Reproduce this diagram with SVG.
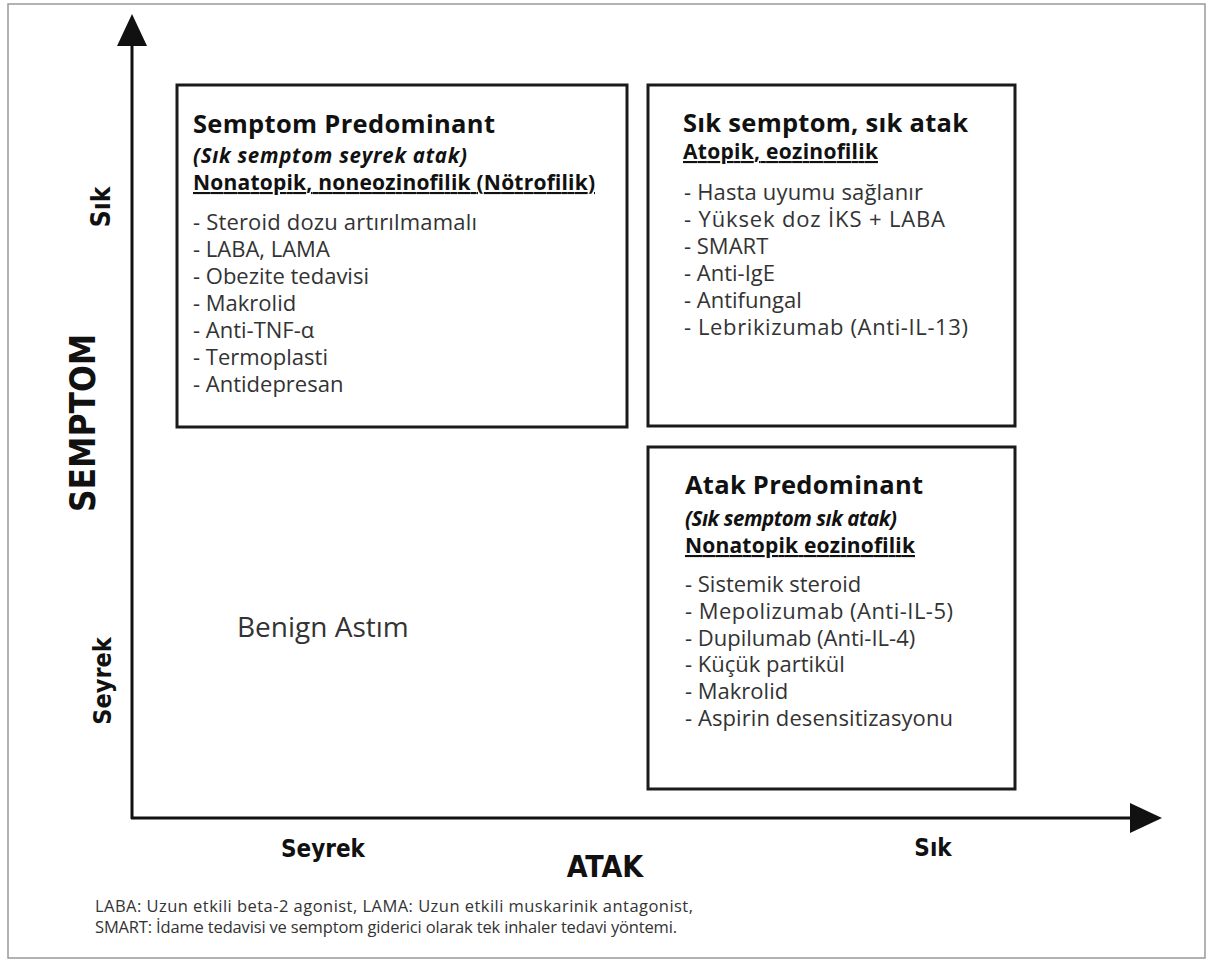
<svg xmlns="http://www.w3.org/2000/svg" width="1213" height="964" viewBox="0 0 1213 964">
<style>
.box{fill:none;stroke:#1a1a1a;stroke-width:3}
.t{font-family:"Open Sans",Lato,sans-serif;font-weight:bold;font-size:25.5px;fill:#111}
.s{font-family:"Open Sans",Lato,sans-serif;font-weight:bold;font-style:italic;font-size:20.5px;fill:#111}
.u{font-family:"Open Sans",Lato,sans-serif;font-weight:bold;font-size:21px;fill:#111;text-decoration:underline}
.i{font-family:"Open Sans",Lato,sans-serif;font-size:22px;fill:#333}
.b{font-family:"Open Sans",Lato,sans-serif;font-size:28px;fill:#333}
.ax{font-family:"DejaVu Sans Condensed","DejaVu Sans",sans-serif;font-stretch:condensed;font-weight:bold;fill:#111}
.fn{font-family:"Open Sans",Lato,sans-serif;font-size:16.5px;fill:#333}
.axis{stroke:#111;stroke-width:3;fill:none}
</style>
<rect x="8" y="4" width="1197" height="954" fill="#fff" stroke="#999" stroke-width="1.5"/>
<g id="connectors">
<line class="axis" x1="132" y1="40" x2="132" y2="819"/>
<line class="axis" x1="131" y1="818" x2="1140" y2="818"/>
<polygon points="132,14 117,46 147,46" fill="#111"/>
<polygon points="1162,818 1130,803 1130,833" fill="#111"/>
</g>
<g id="axis-labels">
<text class="ax" font-size="26" transform="translate(110,207) rotate(-90)" text-anchor="middle">Sık</text>
<text class="ax" font-size="35" transform="translate(95,423) rotate(-90)" text-anchor="middle">SEMPTOM</text>
<text class="ax" font-size="25" transform="translate(111,681) rotate(-90)" text-anchor="middle">Seyrek</text>
<text class="ax" font-size="24" x="323" y="857" text-anchor="middle">Seyrek</text>
<text class="ax" font-size="30" x="605" y="877" text-anchor="middle">ATAK</text>
<text class="ax" font-size="24" x="933" y="856" text-anchor="middle">Sık</text>
</g>
<g id="box-semptom">
<rect class="box" x="177" y="85" width="450" height="342"/>
<text class="t" x="193" y="133" textLength="302">Semptom Predominant</text>
<text class="s" x="193" y="163" textLength="274">(Sık semptom seyrek atak)</text>
<text class="u" x="193" y="190" textLength="402">Nonatopik, noneozinofilik (Nötrofilik)</text>
<text class="i" x="193" y="230" textLength="284">- Steroid dozu artırılmamalı</text>
<text class="i" x="193" y="257">- LABA, LAMA</text>
<text class="i" x="193" y="284">- Obezite tedavisi</text>
<text class="i" x="193" y="311">- Makrolid</text>
<text class="i" x="193" y="338">- Anti-TNF-α</text>
<text class="i" x="193" y="365">- Termoplasti</text>
<text class="i" x="193" y="392">- Antidepresan</text>
</g>
<g id="box-sik">
<rect class="box" x="648" y="85" width="367" height="341"/>
<text class="t" x="683" y="132" textLength="285">Sık semptom, sık atak</text>
<text class="u" x="683" y="159" textLength="195">Atopik, eozinofilik</text>
<text class="i" x="684" y="200" textLength="239">- Hasta uyumu sağlanır</text>
<text class="i" x="684" y="227" textLength="261">- Yüksek doz İKS + LABA</text>
<text class="i" x="684" y="254">- SMART</text>
<text class="i" x="684" y="281">- Anti-IgE</text>
<text class="i" x="684" y="308">- Antifungal</text>
<text class="i" x="684" y="335" textLength="284">- Lebrikizumab (Anti-IL-13)</text>
</g>
<g id="box-atak">
<rect class="box" x="648" y="447" width="367" height="342"/>
<text class="t" x="685" y="494" textLength="238">Atak Predominant</text>
<text class="s" x="685" y="526" textLength="212">(Sık semptom sık atak)</text>
<text class="u" x="685" y="553" textLength="230">Nonatopik eozinofilik</text>
<text class="i" x="685" y="592">- Sistemik steroid</text>
<text class="i" x="685" y="619" textLength="268">- Mepolizumab (Anti-IL-5)</text>
<text class="i" x="685" y="646">- Dupilumab (Anti-IL-4)</text>
<text class="i" x="685" y="672">- Küçük partikül</text>
<text class="i" x="685" y="699">- Makrolid</text>
<text class="i" x="685" y="726" textLength="268">- Aspirin desensitizasyonu</text>
</g>
<g id="benign">
<text class="b" x="237" y="637">Benign Astım</text>
</g>
<g id="footnote">
<text class="fn" x="95" y="912" textLength="598">LABA: Uzun etkili beta-2 agonist, LAMA: Uzun etkili muskarinik antagonist,</text>
<text class="fn" x="95" y="933" textLength="582">SMART: İdame tedavisi ve semptom giderici olarak tek inhaler tedavi yöntemi.</text>
</g>
</svg>
